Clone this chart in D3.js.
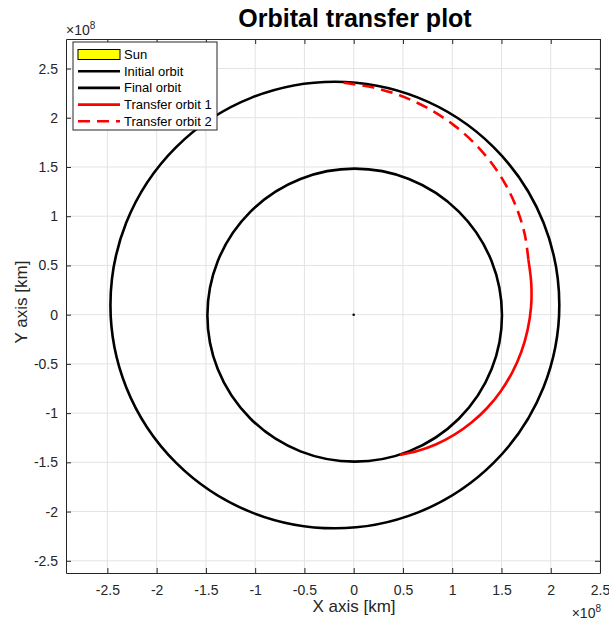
<!DOCTYPE html>
<html>
<head>
<meta charset="utf-8">
<script src="https://cdn.jsdelivr.net/npm/d3@7"></script>
<style>
  html, body { margin: 0; padding: 0; background: #ffffff; }
  svg { display: block; font-family: Arial, "Liberation Sans", Helvetica, sans-serif; }
</style>
</head>
<body>
<svg id="chart" width="609" height="621"></svg>
<script>
// Axis ticks (units of 1e8 km)
const xTicks = [-2.5, -2, -1.5, -1, -0.5, 0, 0.5, 1, 1.5, 2, 2.5];
const xTickLabels = ["-2.5", "-2", "-1.5", "-1", "-0.5", "0", "0.5", "1", "1.5", "2", "2.5"];
const yTicks = [-2.5, -2, -1.5, -1, -0.5, 0, 0.5, 1, 1.5, 2, 2.5];
const yTickLabels = ["-2.5", "-2", "-1.5", "-1", "-0.5", "0", "0.5", "1", "1.5", "2", "2.5"];
const xLimits = [-2.92, 2.5];
const yLimits = [-2.624, 2.80];

// Sun: centre and radius (1e8 km)
const sunCenter = [0, 0];
const sunRadius = 0.00696;

// Orbits as ellipses: centre [x, y] and semi-axes [rx, ry] (1e8 km)
const orbitNames = ["Initial orbit", "Final orbit"];
const orbitCenters = [[0.010, -0.005], [-0.191, 0.098]];
const orbitSemiAxes = [[1.495, 1.488], [2.278, 2.268]];

// Transfer arcs in polar form about the Sun: angle (deg) and radius (1e8 km)
const transfer1Angle = [-71.7, -65, -57.5, -50, -42.5, -35, -27.5, -20, -12.5, -5, 2.5, 10, 17.5];
const transfer1Radius = [1.500, 1.528, 1.560, 1.591, 1.622, 1.653, 1.683, 1.713, 1.743, 1.772, 1.802, 1.830, 1.859];
const transfer2Angle = [17.5, 25, 32.5, 40, 47.5, 55, 62.5, 70, 77.5, 85, 92.5];
const transfer2Radius = [1.859, 1.917, 1.972, 2.026, 2.079, 2.130, 2.179, 2.226, 2.272, 2.316, 2.358];

const legendLabels = ["Sun", "Initial orbit", "Final orbit", "Transfer orbit 1", "Transfer orbit 2"];

const svg = d3.select("#chart");
const box = { left: 66, top: 39, width: 534, height: 534 };

const x = d3.scaleLinear().domain(xLimits).range([box.left, box.left + box.width]);
const y = d3.scaleLinear().domain(yLimits).range([box.top + box.height, box.top]);

const axisColor = "#262626";
const gridColor = "#e3e3e3";

// grid
const grid = svg.append("g");
grid.selectAll("line.gx").data(xTicks).join("line")
  .attr("x1", d => x(d)).attr("x2", d => x(d))
  .attr("y1", box.top).attr("y2", box.top + box.height)
  .attr("stroke", gridColor).attr("stroke-width", 1);
grid.selectAll("line.gy").data(yTicks).join("line")
  .attr("y1", d => y(d)).attr("y2", d => y(d))
  .attr("x1", box.left).attr("x2", box.left + box.width)
  .attr("stroke", gridColor).attr("stroke-width", 1);

// plotted content clipped to the axes box
svg.append("clipPath").attr("id", "plotclip").append("rect")
  .attr("x", box.left).attr("y", box.top).attr("width", box.width).attr("height", box.height);
const plot = svg.append("g").attr("clip-path", "url(#plotclip)");

// orbits
plot.selectAll("ellipse.orbit").data(orbitCenters).join("ellipse")
  .attr("class", "orbit")
  .attr("cx", d => x(d[0])).attr("cy", d => y(d[1]))
  .attr("rx", (d, i) => x(orbitSemiAxes[i][0]) - x(0))
  .attr("ry", (d, i) => y(0) - y(orbitSemiAxes[i][1]))
  .attr("fill", "none").attr("stroke", "#000").attr("stroke-width", 2.6);

// transfer arcs
const toXY = (angles, radii) => angles.map((a, i) => {
  const t = a * Math.PI / 180;
  return [radii[i] * Math.cos(t), radii[i] * Math.sin(t)];
});
const line = d3.line().x(d => x(d[0])).y(d => y(d[1])).curve(d3.curveCatmullRom.alpha(0.5));
plot.append("path").datum(toXY(transfer1Angle, transfer1Radius))
  .attr("d", line).attr("fill", "none").attr("stroke", "#ff0000").attr("stroke-width", 2.6);
plot.append("path").datum(toXY(transfer2Angle, transfer2Radius))
  .attr("d", line).attr("fill", "none").attr("stroke", "#ff0000").attr("stroke-width", 2.6)
  .attr("stroke-dasharray", "12,7");

// sun
plot.append("circle")
  .attr("cx", x(sunCenter[0])).attr("cy", y(sunCenter[1]))
  .attr("r", x(sunRadius) - x(0))
  .attr("fill", "#ffff00").attr("stroke", "#000").attr("stroke-width", 1.2);

// axes with inward ticks
const xAxis = d3.axisBottom(x).tickValues(xTicks).tickFormat((d, i) => xTickLabels[i])
  .tickSizeInner(-5).tickSizeOuter(0).tickPadding(12);
const yAxis = d3.axisLeft(y).tickValues(yTicks).tickFormat((d, i) => yTickLabels[i])
  .tickSizeInner(-5).tickSizeOuter(0).tickPadding(8);
const xTop = d3.axisTop(x).tickValues(xTicks).tickFormat("").tickSizeInner(-5).tickSizeOuter(0);
const yRight = d3.axisRight(y).tickValues(yTicks).tickFormat("").tickSizeInner(-5).tickSizeOuter(0);

function styleAxis(g) {
  g.select(".domain").attr("stroke", axisColor).attr("stroke-width", 1);
  g.selectAll(".tick line").attr("stroke", axisColor);
  g.selectAll(".tick text").attr("fill", axisColor).style("font-size", "14px");
}
svg.append("g").attr("transform", `translate(0,${box.top + box.height})`).call(xAxis).call(styleAxis);
svg.append("g").attr("transform", `translate(${box.left},0)`).call(yAxis).call(styleAxis);
svg.append("g").attr("transform", `translate(0,${box.top})`).call(xTop).call(styleAxis);
svg.append("g").attr("transform", `translate(${box.left + box.width},0)`).call(yRight).call(styleAxis);

// exponent labels
function expLabel(px, py, anchor) {
  const t = svg.append("text").attr("x", px).attr("y", py).attr("text-anchor", anchor)
    .attr("fill", axisColor).style("font-size", "14px");
  t.append("tspan").text("\u00d710");
  t.append("tspan").attr("dy", -6).style("font-size", "10px").text("8");
}
expLabel(66, 35, "start");
expLabel(601, 618, "end");

// axis titles
svg.append("text").attr("x", 354).attr("y", 612)
  .attr("text-anchor", "middle").attr("fill", axisColor).style("font-size", "17px")
  .text("X axis [km]");
svg.append("text").attr("transform", `translate(27,302) rotate(-90)`)
  .attr("text-anchor", "middle").attr("fill", axisColor).style("font-size", "17px")
  .text("Y axis [km]");

// chart title
svg.append("text").attr("x", 355).attr("y", 27)
  .attr("text-anchor", "middle").attr("fill", "#000").style("font-size", "25px")
  .style("font-weight", "bold").text("Orbital transfer plot");

// legend
const lg = svg.append("g").attr("transform", "translate(73,42)");
lg.append("rect").attr("width", 144).attr("height", 88)
  .attr("fill", "#fff").attr("stroke", axisColor).attr("stroke-width", 1);
const rowY = i => 12.5 + i * 16.7;
const items = lg.selectAll("g.item").data(legendLabels).join("g")
  .attr("transform", (d, i) => `translate(0,${rowY(i)})`);
items.append("text").attr("x", 51).attr("dy", "0.35em").attr("fill", "#000")
  .style("font-size", "13px").text(d => d);
items.filter((d, i) => i === 0).append("rect")
  .attr("x", 5).attr("y", -5).attr("width", 42).attr("height", 10)
  .attr("fill", "#ffff00").attr("stroke", "#000").attr("stroke-width", 1);
const legendStroke = ["#000", "#000", "#ff0000", "#ff0000"];
items.filter((d, i) => i > 0).append("line")
  .attr("x1", 5).attr("x2", 47)
  .attr("stroke", (d, i) => legendStroke[i]).attr("stroke-width", 2.6)
  .attr("stroke-dasharray", (d, i) => i === 3 ? "12,7" : null);
</script>
</body>
</html>
